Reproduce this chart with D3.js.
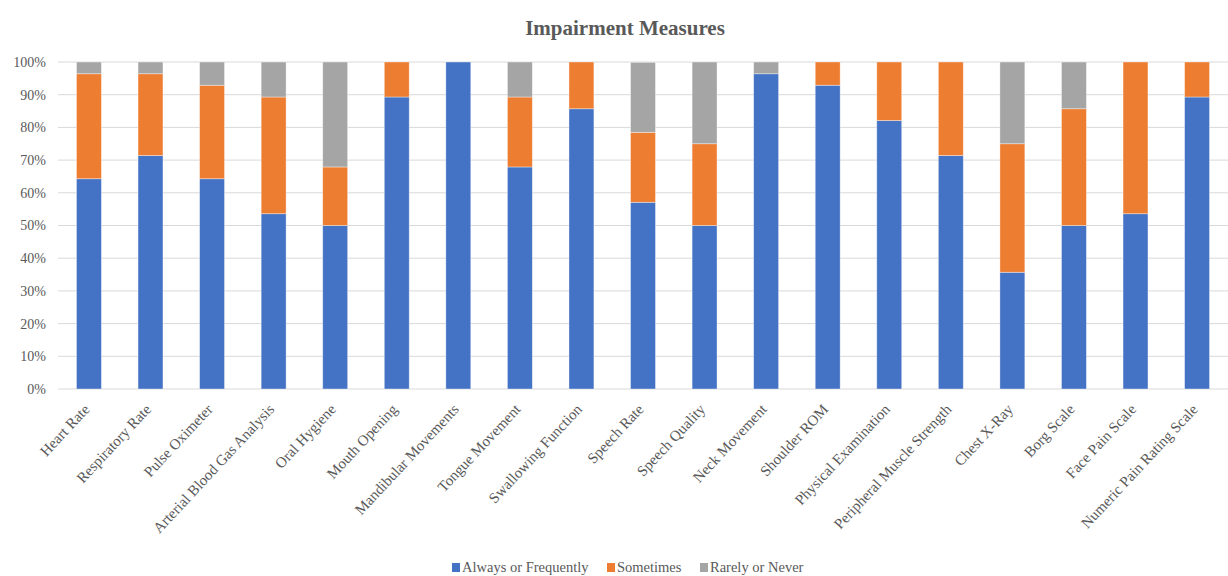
<!DOCTYPE html>
<html>
<head>
<meta charset="utf-8">
<script src="https://cdn.jsdelivr.net/npm/d3@7"></script>
<style>
  body { margin: 0; background: #fff; }
  svg text { font-family: "Liberation Serif", "Times New Roman", serif; }
</style>
</head>
<body>
<svg id="chart"></svg>
<script>
// Data
const categories = [
  "Heart Rate", "Respiratory Rate", "Pulse Oximeter", "Arterial Blood Gas Analysis",
  "Oral Hygiene", "Mouth Opening", "Mandibular Movements", "Tongue Movement",
  "Swallowing Function", "Speech Rate", "Speech Quality", "Neck Movement",
  "Shoulder ROM", "Physical Examination", "Peripheral Muscle Strength", "Chest X-Ray",
  "Borg Scale", "Face Pain Scale", "Numeric Pain Rating Scale"
];
const seriesNames = ["Always or Frequently", "Sometimes", "Rarely or Never"];
const always    = [64.3, 71.4, 64.3, 53.6, 50.0, 89.3, 100, 67.9, 85.7, 57.1, 50.0, 96.4, 92.9, 82.1, 71.4, 35.7, 50.0, 53.6, 89.3];
const sometimes = [32.1, 25.0, 28.6, 35.7, 17.9, 10.7, 0, 21.4, 14.3, 21.4, 25.0, 0, 7.1, 17.9, 28.6, 39.3, 35.7, 46.4, 10.7];
const rarely    = [3.6, 3.6, 7.1, 10.7, 32.1, 0, 0, 10.7, 0, 21.4, 25.0, 3.6, 0, 0, 0, 25.0, 14.3, 0, 0];
const yTicks = [0, 10, 20, 30, 40, 50, 60, 70, 80, 90, 100];
const colors = ["#4472C4", "#ED7D31", "#A5A5A5"];

const width = 1228, height = 576;
const margin = { top: 62, right: 0, bottom: 187, left: 58 };
const serif = '"Liberation Serif", "Times New Roman", serif';
const textColor = "#595959";

const svg = d3.select("#chart")
  .attr("width", width)
  .attr("height", height);

const rows = categories.map((c, i) => ({
  category: c,
  [seriesNames[0]]: always[i],
  [seriesNames[1]]: sometimes[i],
  [seriesNames[2]]: rarely[i]
}));
const stacked = d3.stack().keys(seriesNames)(rows);

const x = d3.scaleBand()
  .domain(categories)
  .range([margin.left, width - margin.right])
  .paddingInner(0.595)
  .paddingOuter(0.3);
const y = d3.scaleLinear()
  .domain([0, 100])
  .range([height - margin.bottom, margin.top]);

// Title
svg.append("text")
  .attr("x", 625)
  .attr("y", 35)
  .attr("text-anchor", "middle")
  .style("font-family", serif)
  .style("font-size", "21px")
  .style("font-weight", "bold")
  .attr("fill", textColor)
  .text("Impairment Measures");

// Gridlines
svg.append("g")
  .selectAll("line")
  .data(yTicks)
  .join("line")
  .attr("x1", margin.left)
  .attr("x2", width - margin.right)
  .attr("y1", d => y(d))
  .attr("y2", d => y(d))
  .attr("stroke", "#D9D9D9")
  .attr("stroke-width", 1);

// Y axis
const yAxis = svg.append("g")
  .attr("transform", `translate(${margin.left - 12},0)`)
  .call(d3.axisLeft(y).tickValues(yTicks).tickSize(0).tickFormat(d => d + "%"));
yAxis.select(".domain").remove();
yAxis.selectAll("text")
  .style("font-family", serif)
  .style("font-size", "14px")
  .attr("fill", textColor)
  .attr("x", 0);

// Bars
svg.append("g")
  .selectAll("g")
  .data(stacked)
  .join("g")
  .attr("fill", (d, i) => colors[i])
  .selectAll("rect")
  .data(d => d)
  .join("rect")
  .attr("x", d => x(d.data.category))
  .attr("y", d => y(d[1]))
  .attr("width", x.bandwidth())
  .attr("height", d => y(d[0]) - y(d[1]))
  .attr("stroke", "#ffffff")
  .attr("stroke-opacity", 0.5)
  .attr("stroke-width", 0.75);

// X axis labels
const xAxis = svg.append("g")
  .attr("transform", `translate(0,${height - margin.bottom})`)
  .call(d3.axisBottom(x).tickSize(0));
xAxis.select(".domain").remove();
xAxis.selectAll("text")
  .style("font-family", serif)
  .style("font-size", "15px")
  .attr("fill", textColor)
  .attr("text-anchor", "end")
  .attr("x", 0)
  .attr("y", 0)
  .attr("dy", 0)
  .attr("transform", "translate(1.5,21) rotate(-47)");

// Legend
const legendItems = [
  { name: seriesNames[0], x: 452 },
  { name: seriesNames[1], x: 607 },
  { name: seriesNames[2], x: 700 }
];
const legend = svg.append("g");
legendItems.forEach((d, i) => {
  legend.append("rect")
    .attr("x", d.x)
    .attr("y", 563)
    .attr("width", 8)
    .attr("height", 9)
    .attr("fill", colors[i]);
  legend.append("text")
    .attr("x", d.x + 10)
    .attr("y", 572)
    .style("font-family", serif)
    .style("font-size", "14.5px")
    .attr("fill", textColor)
    .text(d.name);
});
</script>
</body>
</html>
